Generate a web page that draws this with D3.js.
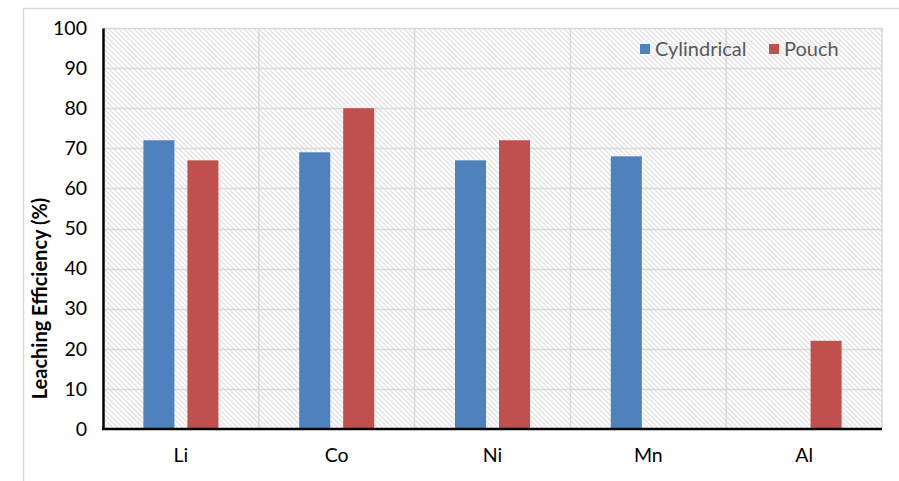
<!DOCTYPE html>
<html>
<head>
<meta charset="utf-8">
<script src="https://cdn.jsdelivr.net/npm/d3@7"></script>
<style>
  body { margin: 0; background: #fff; }
  svg { display: block; }
</style>
</head>
<body>
<svg id="chart" width="899" height="481"></svg>
<script>
// Leaching efficiency by element for two cell formats
const elements = ["Li", "Co", "Ni", "Mn", "Al"];
const seriesNames = ["Cylindrical", "Pouch"];
const cylindrical = [72, 69, 67, 68, null];
const pouch = [67, 80, 72, null, 22];
const yTicks = [0, 10, 20, 30, 40, 50, 60, 70, 80, 90, 100];
const colors = ["#4f81bd", "#c0504d"];

const svg = d3.select("#chart");
const W = 899, H = 481;
const margin = { left: 103, right: 17, top: 28, bottom: 52 };
const x0 = margin.left, x1 = W - margin.right;
const y0 = H - margin.bottom, y1 = margin.top;

const font = "Lato, 'Open Sans', sans-serif";

// hatched fill for the plotting area
const defs = svg.append("defs");
const pat = defs.append("pattern")
  .attr("id", "hatch").attr("patternUnits", "userSpaceOnUse")
  .attr("width", 5).attr("height", 5);
pat.append("rect").attr("width", 5).attr("height", 5).attr("fill", "#fff");
pat.append("path").attr("d", "M-1,-1 L6,6 M-1,4 L1,6 M4,-1 L6,1")
  .attr("stroke", "#e2e2e2").attr("stroke-width", 1.3);

// outer frame
svg.append("path").attr("d", `M23.5,${H} L23.5,8.5 L${W},8.5`)
  .attr("fill", "none").attr("stroke", "#d9d9d9").attr("stroke-width", 1.5);

const x = d3.scaleBand().domain(elements).range([x0, x1]);
const xs = d3.scaleBand().domain(seriesNames).range([0, x.bandwidth()])
  .paddingInner(0.295).paddingOuter(0.918);
const y = d3.scaleLinear().domain([0, 100]).range([y0, y1]);

svg.append("rect").attr("x", x0).attr("y", y1)
  .attr("width", x1 - x0).attr("height", y0 - y1).attr("fill", "url(#hatch)");

// horizontal grid
svg.append("g").selectAll("line").data(yTicks.filter(d => d > 0)).join("line")
  .attr("x1", x0).attr("x2", x1)
  .attr("y1", d => Math.round(y(d)) + 0.5).attr("y2", d => Math.round(y(d)) + 0.5)
  .attr("stroke", "#d9d9d9").attr("stroke-width", 1.5);

// vertical grid at category boundaries
svg.append("g").selectAll("line").data(elements.slice(1).concat(["end"])).join("line")
  .attr("x1", (d, i) => i < elements.length - 1 ? x(d) : x1)
  .attr("x2", (d, i) => i < elements.length - 1 ? x(d) : x1)
  .attr("y1", y1).attr("y2", y0)
  .attr("stroke", "#d9d9d9").attr("stroke-width", 1.5);

// bars
const data = [];
elements.forEach((e, i) => {
  [cylindrical, pouch].forEach((arr, s) => {
    if (arr[i] != null) data.push({ e, s, v: arr[i] });
  });
});
svg.append("g").selectAll("rect").data(data).join("rect")
  .attr("x", d => x(d.e) + xs(seriesNames[d.s]))
  .attr("width", xs.bandwidth())
  .attr("y", d => y(d.v))
  .attr("height", d => y(0) - y(d.v))
  .attr("fill", d => colors[d.s]);

// y axis
const yAxis = svg.append("g").attr("transform", `translate(${x0},0)`)
  .call(d3.axisLeft(y).tickValues(yTicks).tickSize(0).tickPadding(16));
yAxis.select(".domain").attr("stroke", "#000").attr("stroke-width", 2.5);
yAxis.selectAll("text").attr("font-family", font).attr("font-size", 19.5).attr("fill", "#000");

// x axis
const xAxis = svg.append("g").attr("transform", `translate(0,${y0})`)
  .call(d3.axisBottom(x).tickSize(0).tickPadding(19));
xAxis.select(".domain").attr("stroke", "#000").attr("stroke-width", 2.5)
  .attr("d", `M${x0 - 1},0H${x1}`);
xAxis.selectAll("text").attr("font-family", font).attr("font-size", 19.5).attr("fill", "#000");

// y-axis title
svg.append("text")
  .attr("transform", `translate(47,${(y0 + y1) / 2 + 70}) rotate(-90)`)
  .attr("text-anchor", "middle")
  .attr("font-family", font).attr("font-weight", "bold").attr("font-size", 20)
  .text("Leaching Efficiency (%)");

// legend
const legend = svg.append("g").attr("transform", "translate(640,49)");
const lx = [0, 129];
seriesNames.forEach((name, i) => {
  const g = legend.append("g").attr("transform", `translate(${lx[i]},0)`);
  g.append("rect").attr("x", 0).attr("y", -5).attr("width", 10).attr("height", 10).attr("fill", colors[i]);
  g.append("text").attr("x", 15).attr("y", 0).attr("dy", "0.35em")
    .attr("font-family", font).attr("font-size", 20).attr("fill", "#595959").text(name);
});
</script>
</body>
</html>
